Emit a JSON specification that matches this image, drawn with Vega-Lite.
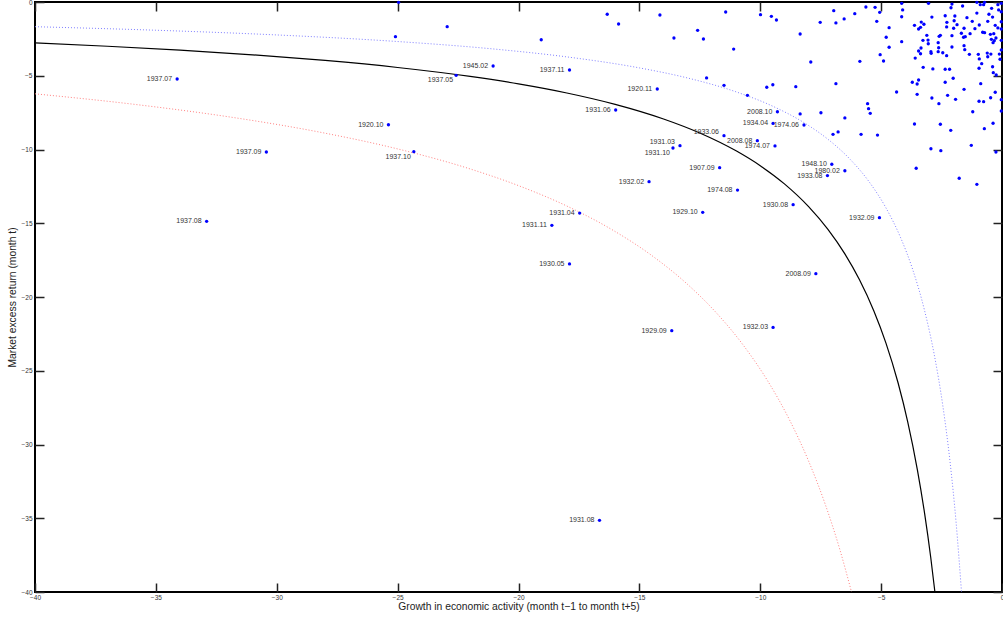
{
  "$schema": "https://vega.github.io/schema/vega-lite/v6.json",
  "width": 967,
  "height": 590,
  "autosize": {"type": "none"},
  "padding": {"left": 35, "top": 2, "right": 1, "bottom": 31},
  "background": "white",
  "config": {
    "view": {"stroke": "#000000", "strokeWidth": 2},
    "font": "Liberation Sans",
    "axis": {"grid": false, "labelFlush": false, "labelOverlap": false, "domain": false, "tickColor": "#222222", "tickWidth": 1.5, "tickSize": 9, "offset": -9}
  },
  "datasets": {
    "curves": [
      {"curve": "red", "x": -40, "y": -6.225}, {"curve": "red", "x": -36, "y": -6.917}, {"curve": "red", "x": -32, "y": -7.781}, {"curve": "red", "x": -28, "y": -8.893}, {"curve": "red", "x": -25, "y": -9.96}, {"curve": "red", "x": -22, "y": -11.318}, {"curve": "red", "x": -20, "y": -12.45}, {"curve": "red", "x": -18, "y": -13.833}, {"curve": "red", "x": -16, "y": -15.563}, {"curve": "red", "x": -14.5, "y": -17.172}, {"curve": "red", "x": -13, "y": -19.154}, {"curve": "red", "x": -11.8, "y": -21.102}, {"curve": "red", "x": -10.7, "y": -23.271}, {"curve": "red", "x": -9.7, "y": -25.67}, {"curve": "red", "x": -8.8, "y": -28.295}, {"curve": "red", "x": -8, "y": -31.125}, {"curve": "red", "x": -7.3, "y": -34.11}, {"curve": "red", "x": -6.7, "y": -37.164}, {"curve": "red", "x": -6.225, "y": -40},
      {"curve": "blue", "x": -40, "y": -1.675}, {"curve": "blue", "x": -35, "y": -1.914}, {"curve": "blue", "x": -30, "y": -2.233}, {"curve": "blue", "x": -25, "y": -2.68}, {"curve": "blue", "x": -21, "y": -3.19}, {"curve": "blue", "x": -18, "y": -3.722}, {"curve": "blue", "x": -15, "y": -4.467}, {"curve": "blue", "x": -13, "y": -5.154}, {"curve": "blue", "x": -11, "y": -6.091}, {"curve": "blue", "x": -9.5, "y": -7.053}, {"curve": "blue", "x": -8.2, "y": -8.171}, {"curve": "blue", "x": -7.2, "y": -9.306}, {"curve": "blue", "x": -6.3, "y": -10.635}, {"curve": "blue", "x": -5.5, "y": -12.182}, {"curve": "blue", "x": -4.8, "y": -13.958}, {"curve": "blue", "x": -4.2, "y": -15.952}, {"curve": "blue", "x": -3.7, "y": -18.108}, {"curve": "blue", "x": -3.2, "y": -20.938}, {"curve": "blue", "x": -2.8, "y": -23.929}, {"curve": "blue", "x": -2.45, "y": -27.347}, {"curve": "blue", "x": -2.15, "y": -31.163}, {"curve": "blue", "x": -1.9, "y": -35.263}, {"curve": "blue", "x": -1.675, "y": -40},
      {"curve": "black", "x": -40, "y": -2.775}, {"curve": "black", "x": -37, "y": -3.0}, {"curve": "black", "x": -34, "y": -3.265}, {"curve": "black", "x": -31, "y": -3.581}, {"curve": "black", "x": -28, "y": -3.964}, {"curve": "black", "x": -25, "y": -4.44}, {"curve": "black", "x": -22, "y": -5.045}, {"curve": "black", "x": -20, "y": -5.55}, {"curve": "black", "x": -18, "y": -6.167}, {"curve": "black", "x": -16, "y": -6.938}, {"curve": "black", "x": -14, "y": -7.929}, {"curve": "black", "x": -12.5, "y": -8.88}, {"curve": "black", "x": -11, "y": -10.091}, {"curve": "black", "x": -10, "y": -11.1}, {"curve": "black", "x": -9, "y": -12.333}, {"curve": "black", "x": -8, "y": -13.875}, {"curve": "black", "x": -7.2, "y": -15.417}, {"curve": "black", "x": -6.5, "y": -17.077}, {"curve": "black", "x": -5.9, "y": -18.814}, {"curve": "black", "x": -5.3, "y": -20.943}, {"curve": "black", "x": -4.8, "y": -23.125}, {"curve": "black", "x": -4.3, "y": -25.814}, {"curve": "black", "x": -3.9, "y": -28.462}, {"curve": "black", "x": -3.5, "y": -31.714}, {"curve": "black", "x": -3.2, "y": -34.688}, {"curve": "black", "x": -2.95, "y": -37.627}, {"curve": "black", "x": -2.775, "y": -40}
    ],
    "pts": [
      {"x": -34.12, "y": -5.22, "label": "1937.07", "pos": "left"},
      {"x": -30.43, "y": -10.17, "label": "1937.09", "pos": "left"},
      {"x": -32.90, "y": -14.87, "label": "1937.08", "pos": "left"},
      {"x": -25.38, "y": -8.32, "label": "1920.10", "pos": "left"},
      {"x": -24.33, "y": -10.15, "label": "1937.10", "pos": "below"},
      {"x": -22.58, "y": -4.97, "label": "1937.05", "pos": "below"},
      {"x": -21.05, "y": -4.34, "label": "1945.02", "pos": "left"},
      {"x": -17.89, "y": -4.61, "label": "1937.11", "pos": "left"},
      {"x": -14.26, "y": -5.90, "label": "1920.11", "pos": "left"},
      {"x": -15.98, "y": -7.32, "label": "1931.06", "pos": "left"},
      {"x": -13.32, "y": -9.74, "label": "1931.03", "pos": "above"},
      {"x": -13.61, "y": -9.90, "label": "1931.10", "pos": "below"},
      {"x": -14.60, "y": -12.18, "label": "1932.02", "pos": "left"},
      {"x": -11.50, "y": -9.06, "label": "1933.06", "pos": "above"},
      {"x": -9.29, "y": -7.44, "label": "2008.10", "pos": "left"},
      {"x": -9.47, "y": -8.23, "label": "1934.04", "pos": "left"},
      {"x": -8.19, "y": -8.34, "label": "1974.06", "pos": "left"},
      {"x": -10.12, "y": -9.40, "label": "2008.08", "pos": "left"},
      {"x": -9.39, "y": -9.76, "label": "1974.07", "pos": "left"},
      {"x": -11.68, "y": -11.23, "label": "1907.09", "pos": "left"},
      {"x": -10.94, "y": -12.75, "label": "1974.08", "pos": "left"},
      {"x": -7.04, "y": -11.00, "label": "1948.10", "pos": "left"},
      {"x": -6.50, "y": -11.44, "label": "1980.02", "pos": "left"},
      {"x": -7.22, "y": -11.77, "label": "1933.08", "pos": "left"},
      {"x": -17.47, "y": -14.31, "label": "1931.04", "pos": "left"},
      {"x": -18.62, "y": -15.14, "label": "1931.11", "pos": "left"},
      {"x": -17.89, "y": -17.76, "label": "1930.05", "pos": "left"},
      {"x": -12.38, "y": -14.26, "label": "1929.10", "pos": "left"},
      {"x": -8.64, "y": -13.74, "label": "1930.08", "pos": "left"},
      {"x": -5.07, "y": -14.62, "label": "1932.09", "pos": "left"},
      {"x": -7.70, "y": -18.42, "label": "2008.09", "pos": "left"},
      {"x": -13.66, "y": -22.28, "label": "1929.09", "pos": "left"},
      {"x": -9.47, "y": -22.06, "label": "1932.03", "pos": "left"},
      {"x": -16.65, "y": -35.14, "label": "1931.08", "pos": "left"},
      {"x": -24.96, "y": -0.02}, {"x": -25.09, "y": -2.35}, {"x": -22.95, "y": -1.67}, {"x": -19.06, "y": -2.56}, {"x": -16.33, "y": -0.83}, {"x": -15.86, "y": -1.49}, {"x": -14.15, "y": -0.88}, {"x": -13.57, "y": -2.44},
      {"x": -11.43, "y": -0.68}, {"x": -12.59, "y": -1.92}, {"x": -12.35, "y": -2.51}, {"x": -11.10, "y": -3.19}, {"x": -12.22, "y": -5.15}, {"x": -11.50, "y": -5.65}, {"x": -10.53, "y": -6.33}, {"x": -9.99, "y": -0.86}, {"x": -9.54, "y": -0.97}, {"x": -9.33, "y": -1.22}, {"x": -8.35, "y": -2.17}, {"x": -7.91, "y": -4.07}, {"x": -9.73, "y": -5.78}, {"x": -9.48, "y": -5.61}, {"x": -8.53, "y": -5.74}, {"x": -8.35, "y": -7.59}, {"x": -7.49, "y": -7.51}, {"x": -6.50, "y": -7.86}, {"x": -6.99, "y": -8.97}, {"x": -6.78, "y": -8.81}, {"x": -5.83, "y": -8.97}, {"x": -5.15, "y": -9.02}, {"x": -5.56, "y": -6.89}, {"x": -5.52, "y": -7.23}, {"x": -5.45, "y": -7.55}, {"x": -6.87, "y": -5.54}, {"x": -6.96, "y": -0.59}, {"x": -7.52, "y": -1.38}, {"x": -6.87, "y": -1.42}, {"x": -6.53, "y": -1.15}, {"x": -6.09, "y": -0.79}, {"x": -5.63, "y": -0.34}, {"x": -5.25, "y": -0.36}, {"x": -5.06, "y": -0.70}, {"x": -5.18, "y": -1.31}, {"x": -5.88, "y": -4.02}, {"x": -5.04, "y": -3.57}, {"x": -4.90, "y": -4.00}, {"x": -4.79, "y": -2.39}, {"x": -4.67, "y": -1.74}, {"x": -4.67, "y": -3.07}, {"x": -4.15, "y": -0.09}, {"x": -4.11, "y": -0.54}, {"x": -4.15, "y": -1.00}, {"x": -4.15, "y": -2.69}, {"x": -4.36, "y": -6.10}, {"x": -3.71, "y": -5.44}, {"x": -3.51, "y": -5.56}, {"x": -3.45, "y": -5.29}, {"x": -3.51, "y": -6.26}, {"x": -3.62, "y": -8.27}, {"x": -3.55, "y": -11.27}, {"x": -2.94, "y": -9.95}, {"x": -2.53, "y": -10.08}, {"x": -2.55, "y": -8.29}, {"x": -2.12, "y": -8.70}, {"x": -2.90, "y": -6.51}, {"x": -2.61, "y": -6.89}, {"x": -2.25, "y": -6.33}, {"x": -1.92, "y": -6.60}, {"x": -1.57, "y": -5.92}, {"x": -1.77, "y": -11.95}, {"x": -1.04, "y": -12.36}, {"x": -1.27, "y": -9.72}, {"x": -1.21, "y": -7.44}, {"x": -0.73, "y": -8.59}, {"x": -0.37, "y": -8.22}, {"x": -0.25, "y": -10.17},
      {"x": -3.04, "y": -0.09}, {"x": -2.11, "y": -0.39}, {"x": -2.07, "y": -0.14}, {"x": -1.63, "y": -0.27}, {"x": -1.04, "y": -0.02}, {"x": -0.90, "y": -0.18}, {"x": -0.76, "y": -0.18}, {"x": -0.72, "y": -0.02}, {"x": -0.43, "y": -0.43}, {"x": -0.17, "y": -0.18}, {"x": -0.14, "y": -0.54}, {"x": -0.03, "y": -0.09}, {"x": -0.03, "y": -0.66},
      {"x": -3.62, "y": -1.58}, {"x": -3.34, "y": -1.36}, {"x": -3.23, "y": -1.51}, {"x": -3.37, "y": -1.72}, {"x": -3.45, "y": -1.83}, {"x": -2.90, "y": -1.02}, {"x": -2.35, "y": -0.93}, {"x": -1.95, "y": -0.95}, {"x": -1.45, "y": -1.06}, {"x": -1.04, "y": -0.75}, {"x": -2.28, "y": -1.38}, {"x": -1.98, "y": -1.27}, {"x": -1.86, "y": -1.54}, {"x": -2.29, "y": -1.69}, {"x": -2.00, "y": -1.78}, {"x": -1.57, "y": -1.78}, {"x": -1.23, "y": -1.31}, {"x": -0.94, "y": -1.56}, {"x": -1.12, "y": -1.81}, {"x": -0.54, "y": -0.83}, {"x": -0.39, "y": -1.02}, {"x": -0.59, "y": -1.31}, {"x": -0.28, "y": -1.58}, {"x": -0.17, "y": -1.76}, {"x": -0.03, "y": -1.34}, {"x": -0.03, "y": -1.83},
      {"x": -3.11, "y": -2.26}, {"x": -3.27, "y": -2.60}, {"x": -3.06, "y": -2.58}, {"x": -3.05, "y": -2.83}, {"x": -3.35, "y": -3.12}, {"x": -3.45, "y": -3.32}, {"x": -3.37, "y": -3.51}, {"x": -3.59, "y": -3.80}, {"x": -2.94, "y": -3.37}, {"x": -2.93, "y": -3.48}, {"x": -2.64, "y": -2.76}, {"x": -2.60, "y": -2.33}, {"x": -2.55, "y": -2.26}, {"x": -2.62, "y": -3.10}, {"x": -2.64, "y": -3.37}, {"x": -2.45, "y": -3.44}, {"x": -2.29, "y": -3.64}, {"x": -2.07, "y": -2.28}, {"x": -2.07, "y": -3.05}, {"x": -1.68, "y": -2.12}, {"x": -1.59, "y": -2.39}, {"x": -1.52, "y": -2.35}, {"x": -1.32, "y": -2.15}, {"x": -1.57, "y": -2.96}, {"x": -1.54, "y": -3.23}, {"x": -1.35, "y": -3.55}, {"x": -0.98, "y": -3.55}, {"x": -0.80, "y": -2.05}, {"x": -0.72, "y": -2.08}, {"x": -0.48, "y": -2.19}, {"x": -0.34, "y": -2.15}, {"x": -0.44, "y": -2.53}, {"x": -0.32, "y": -2.62}, {"x": -0.37, "y": -2.76}, {"x": -0.25, "y": -2.44}, {"x": -0.03, "y": -2.60}, {"x": -0.61, "y": -3.46}, {"x": -0.59, "y": -3.71}, {"x": -0.46, "y": -3.53}, {"x": -0.11, "y": -3.53}, {"x": -0.08, "y": -3.88}, {"x": -0.03, "y": -3.25}, {"x": -0.84, "y": -4.18}, {"x": -0.95, "y": -4.49}, {"x": -0.94, "y": -3.86}, {"x": -0.39, "y": -4.39}, {"x": -0.36, "y": -4.79}, {"x": -0.24, "y": -4.95}, {"x": -3.26, "y": -4.43}, {"x": -2.86, "y": -4.54}, {"x": -2.35, "y": -4.56}, {"x": -2.17, "y": -4.56}, {"x": -2.02, "y": -5.17}, {"x": -2.35, "y": -5.44}, {"x": -0.88, "y": -5.54}, {"x": -0.28, "y": -6.12}, {"x": -0.47, "y": -6.49}, {"x": -0.76, "y": -6.76}, {"x": -0.95, "y": -6.73}, {"x": -0.03, "y": -6.62}, {"x": -0.03, "y": -7.39}
    ]
  },
  "encoding": {
    "x": {"field": "x", "type": "quantitative", "scale": {"domain": [-40, 0], "nice": false, "zero": false}, "axis": null},
    "y": {"field": "y", "type": "quantitative", "scale": {"domain": [-40, 0], "nice": false, "zero": false}, "axis": null}
  },
  "layer": [
    {
      "data": {"name": "curves"},
      "transform": [{"filter": "datum.curve === 'red'"}],
      "mark": {"type": "line", "color": "#ff8080", "strokeWidth": 1, "strokeDash": [1, 2], "interpolate": "monotone"},
      "encoding": {
        "x": {"field": "x", "type": "quantitative", "scale": {"domain": [-40, 0], "nice": false, "zero": false},
          "axis": {"orient": "bottom", "values": [-40, -35, -30, -25, -20, -15, -10, -5, 0], "labelPadding": 2, "labelFontSize": 6.5, "labelColor": "#333",
            "title": "Growth in economic activity (month t\u22121 to month t+5)", "titleFontSize": 10.3, "titleFontWeight": "normal", "titleColor": "#222", "titlePadding": 1}},
        "y": {"field": "y", "type": "quantitative", "scale": {"domain": [-40, 0], "nice": false, "zero": false},
          "axis": {"orient": "left", "values": [-40, -35, -30, -25, -20, -15, -10, -5, 0], "labelPadding": 3, "labelFontSize": 6.5, "labelColor": "#333",
            "title": "Market excess return (month t)", "titleFontSize": 10.3, "titleFontWeight": "normal", "titleColor": "#222", "titlePadding": 3}}
      }
    },
    {
      "data": {"name": "curves"},
      "transform": [{"filter": "datum.curve === 'blue'"}],
      "mark": {"type": "line", "color": "#8080ff", "strokeWidth": 1, "strokeDash": [1, 2], "interpolate": "monotone"}
    },
    {
      "data": {"name": "curves"},
      "transform": [{"filter": "datum.curve === 'black'"}],
      "mark": {"type": "line", "color": "#000000", "strokeWidth": 1.2, "interpolate": "monotone"}
    },
    {
      "data": {"name": "pts"},
      "mark": {"type": "circle", "color": "#0000ff", "size": 11, "opacity": 1},
      "encoding": {
        "x": {"field": "x", "type": "quantitative",
          "axis": {"orient": "top", "values": [-40, -35, -30, -25, -20, -15, -10, -5, 0], "labels": false, "title": null}},
        "y": {"field": "y", "type": "quantitative",
          "axis": {"orient": "right", "values": [-40, -35, -30, -25, -20, -15, -10, -5, 0], "labels": false, "title": null}}
      }
    },
    {
      "data": {"name": "pts"},
      "transform": [{"filter": "datum.pos === 'left'"}],
      "mark": {"type": "text", "align": "right", "baseline": "middle", "dx": -5, "fontSize": 7, "color": "#333"},
      "encoding": {"text": {"field": "label"}}
    },
    {
      "data": {"name": "pts"},
      "transform": [{"filter": "datum.pos === 'below'"}],
      "mark": {"type": "text", "align": "right", "baseline": "middle", "dx": -3, "dy": 5, "fontSize": 7, "color": "#333"},
      "encoding": {"text": {"field": "label"}}
    },
    {
      "data": {"name": "pts"},
      "transform": [{"filter": "datum.pos === 'above'"}],
      "mark": {"type": "text", "align": "right", "baseline": "middle", "dx": -5, "dy": -4, "fontSize": 7, "color": "#333"},
      "encoding": {"text": {"field": "label"}}
    }
  ]
}
